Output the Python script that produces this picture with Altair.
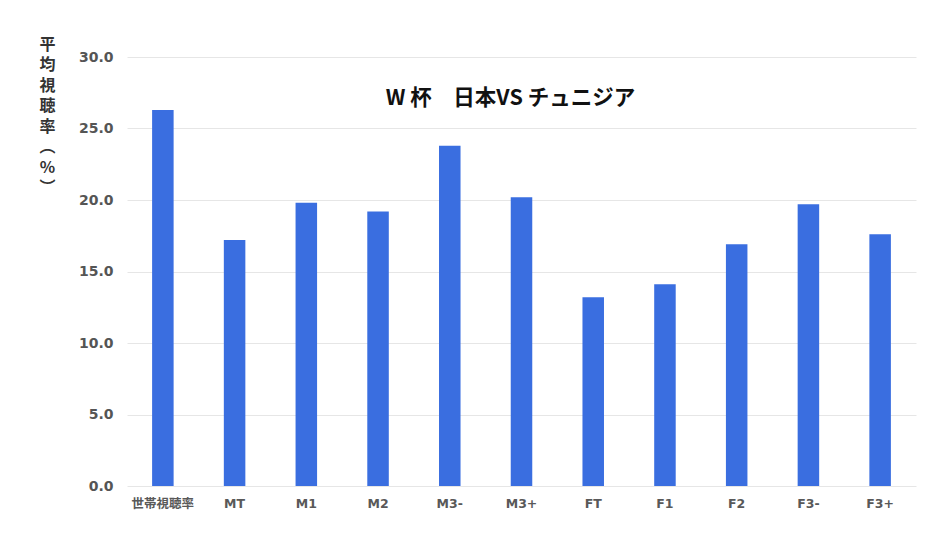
import altair as alt
import pandas as pd

categories = ["世帯視聴率", "MT", "M1", "M2", "M3-", "M3+", "FT", "F1", "F2", "F3-", "F3+"]
values = [26.3, 17.2, 19.8, 19.2, 23.8, 20.2, 13.2, 14.1, 16.9, 19.7, 17.6]
y_title = ["平", "均", "視", "聴", "率", "︵", "%", "︶"]
title_text = "W 杯　日本VS チュニジア"

df = pd.DataFrame({"cat": categories, "val": values})

font = "DejaVu Sans, Noto Sans CJK JP"

chart = alt.Chart(df).mark_bar(color="#3a6ee0").encode(
    x=alt.X("cat:N", sort=categories,
            scale=alt.Scale(paddingInner=0.7, paddingOuter=0.35),
            axis=alt.Axis(title=None, labelAngle=0, domain=False, ticks=False,
                          labelPadding=11, labelFontSize=12.5, labelFontWeight="bold",
                          labelColor="#595959", labelFont=font)),
    y=alt.Y("val:Q", scale=alt.Scale(domain=[0, 30]),
            axis=alt.Axis(values=[0, 5, 10, 15, 20, 25, 30], format=".1f",
                          domain=False, ticks=False, labelPadding=14,
                          labelFontSize=14, labelFontWeight="bold", labelColor="#555555",
                          labelFont=font, gridColor="#e6e6e6",
                          title=y_title, titleAngle=0, titleX=-80, titleY=-21,
                          titleAlign="center", titleBaseline="top",
                          titleFontSize=16, titleLineHeight=20.5,
                          titleFontWeight="bold", titleColor="#333333",
                          titleFont="Noto Sans CJK JP")),
).properties(
    width=789,
    height=429,
    title=alt.TitleParams(title_text, font="Noto Sans CJK JP", fontSize=21.5,
                          fontWeight="bold", color="#111111", anchor="middle",
                          baseline="middle", offset=-40, dx=-11, dy=44),
    padding={"left": 119, "top": 49, "right": 27, "bottom": 40},
    autosize=alt.AutoSizeParams(type="none"),
).configure_view(stroke=None)

chart.save("out.html", embed_options={"renderer": "svg", "actions": False})
